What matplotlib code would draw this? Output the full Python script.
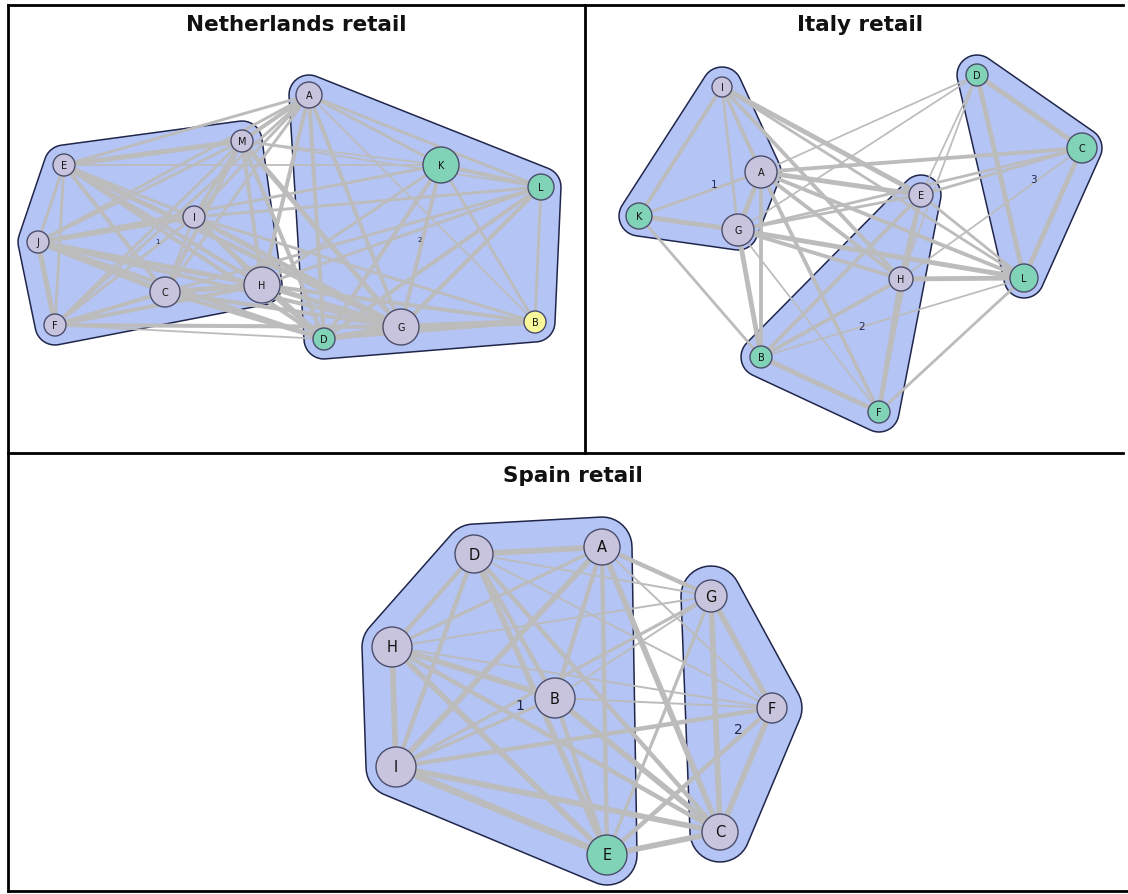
import numpy as np
import matplotlib
matplotlib.use("Agg")
import matplotlib.pyplot as plt
from matplotlib.patches import Circle, Polygon

# ---- Netherlands retail ----
nl_nodes = ["A", "M", "E", "K", "L", "I", "J", "H", "C", "F", "D", "G", "B"]
nl_x = [309, 242, 64, 441, 541, 194, 38, 262, 165, 55, 324, 401, 535]
nl_y = [96, 142, 166, 166, 188, 218, 243, 286, 293, 326, 340, 328, 323]
nl_size = [13, 11, 11, 18, 13, 11, 11, 18, 15, 11, 11, 18, 11]
nl_kind = ["p", "p", "p", "g", "g", "p", "p", "p", "p", "p", "g", "p", "y"]
nl_groups = [["E", "M", "I", "J", "H", "C", "F"], ["A", "K", "L", "D", "G", "B"]]
nl_group_labels = ["1", "2"]
nl_group_label_xy = [(157, 242), (420, 240)]
nl_edges = [
    ("E", "M", 4), ("E", "I", 2), ("E", "J", 2), ("E", "F", 2), ("E", "C", 3), ("E", "H", 3),
    ("E", "G", 4), ("E", "D", 3), ("E", "K", 1), ("E", "A", 2),
    ("M", "A", 3), ("M", "I", 3), ("M", "C", 3), ("M", "J", 2), ("M", "F", 2), ("M", "H", 3),
    ("M", "G", 4), ("M", "D", 3), ("M", "K", 1), ("M", "L", 1),
    ("I", "J", 4), ("I", "C", 2), ("I", "F", 2), ("I", "H", 2), ("I", "G", 4), ("I", "D", 3),
    ("I", "A", 2), ("I", "L", 2), ("I", "B", 2),
    ("J", "F", 4), ("J", "C", 4), ("J", "H", 4), ("J", "G", 3), ("J", "D", 3), ("J", "A", 2), ("J", "K", 2),
    ("C", "F", 3), ("C", "H", 4), ("C", "G", 3), ("C", "D", 3), ("C", "A", 2), ("C", "L", 2),
    ("F", "H", 3), ("F", "G", 3), ("F", "D", 1), ("F", "A", 2),
    ("H", "A", 3), ("H", "G", 4), ("H", "D", 4), ("H", "B", 3), ("H", "K", 2), ("H", "L", 2),
    ("A", "K", 2), ("A", "L", 2), ("A", "G", 3), ("A", "D", 3), ("A", "B", 1),
    ("K", "L", 3), ("K", "G", 3), ("K", "D", 3), ("K", "B", 2),
    ("L", "G", 3), ("L", "D", 3), ("L", "B", 2),
    ("G", "D", 5), ("G", "B", 5), ("D", "B", 2),
]

# ---- Italy retail ----
it_nodes = ["I", "D", "C", "A", "E", "K", "G", "H", "L", "B", "F"]
it_x = [722, 977, 1082, 761, 921, 639, 738, 901, 1024, 761, 879]
it_y = [88, 76, 149, 173, 196, 217, 231, 280, 279, 358, 413]
it_size = [10, 11, 15, 16, 12, 13, 16, 12, 14, 11, 11]
it_kind = ["p", "g", "g", "p", "p", "g", "p", "p", "g", "g", "g"]
it_groups = [["I", "A", "K", "G"], ["E", "H", "B", "F"], ["D", "C", "L"]]
it_group_labels = ["1", "2", "3"]
it_group_label_xy = [(714, 185), (862, 327), (1033, 180)]
it_edges = [
    ("I", "K", 3), ("I", "A", 3), ("I", "G", 2), ("I", "E", 4), ("I", "H", 3), ("I", "L", 2),
    ("A", "K", 2), ("A", "G", 4), ("A", "B", 3), ("A", "E", 4), ("A", "H", 3), ("A", "L", 3),
    ("A", "C", 3), ("A", "D", 1), ("A", "F", 3),
    ("K", "G", 4), ("K", "B", 2),
    ("G", "B", 4), ("G", "E", 2), ("G", "C", 2), ("G", "H", 3), ("G", "L", 4), ("G", "D", 1), ("G", "F", 1),
    ("E", "H", 4), ("E", "B", 3), ("E", "D", 1), ("E", "C", 2), ("E", "L", 2), ("E", "F", 2),
    ("H", "B", 3), ("H", "F", 4), ("H", "L", 4), ("H", "D", 1), ("H", "C", 1),
    ("B", "F", 4), ("B", "L", 1), ("F", "L", 2),
    ("D", "C", 4), ("D", "L", 4), ("C", "L", 4),
]

# ---- Spain retail ----
es_nodes = ["D", "A", "G", "H", "B", "F", "I", "C", "E"]
es_x = [474, 602, 711, 392, 555, 772, 396, 720, 607]
es_y = [555, 548, 597, 648, 699, 709, 768, 833, 856]
es_size = [19, 18, 16, 20, 20, 15, 20, 18, 20]
es_kind = ["p", "p", "p", "p", "p", "p", "p", "p", "g"]
es_groups = [["D", "A", "H", "B", "I", "E"], ["G", "F", "C"]]
es_group_labels = ["1", "2"]
es_group_label_xy = [(520, 706), (738, 730)]
es_edges = [
    ("D", "A", 4), ("D", "H", 3), ("D", "I", 3), ("D", "B", 3), ("D", "E", 4), ("D", "C", 3),
    ("D", "G", 1), ("D", "F", 1),
    ("A", "H", 2), ("A", "I", 4), ("A", "B", 3), ("A", "E", 3), ("A", "C", 4), ("A", "G", 3), ("A", "F", 1),
    ("H", "I", 4), ("H", "B", 4), ("H", "E", 4), ("H", "C", 3), ("H", "G", 1), ("H", "F", 1),
    ("B", "I", 2), ("B", "E", 3), ("B", "C", 4), ("B", "G", 1), ("B", "F", 1),
    ("I", "E", 5), ("I", "C", 4), ("I", "F", 3), ("I", "G", 2),
    ("E", "C", 4), ("E", "G", 2), ("E", "F", 3),
    ("G", "F", 4), ("G", "C", 4), ("F", "C", 4),
]

titles = ["Netherlands retail", "Italy retail", "Spain retail"]
title_xy = [(296, 25), (860, 25), (573, 476)]

COLORS = {"p": "#c9c4dd", "g": "#80d3b6", "y": "#f9f99c"}
HULL_FILL = "#b4c4f5"
HULL_EDGE = "#20264a"
EDGE_COL = "#bcbcbc"


def convex_hull(pts):
    pts = sorted(set(map(tuple, pts)))
    def cross(o, a, b):
        return (a[0] - o[0]) * (b[1] - o[1]) - (a[1] - o[1]) * (b[0] - o[0])
    lower, upper = [], []
    for p in pts:
        while len(lower) >= 2 and cross(lower[-2], lower[-1], p) <= 0:
            lower.pop()
        lower.append(p)
    for p in reversed(pts):
        while len(upper) >= 2 and cross(upper[-2], upper[-1], p) <= 0:
            upper.pop()
        upper.append(p)
    return np.array(lower[:-1] + upper[:-1])


def draw_network(ax, nodes, xs, ys, sizes, kinds, groups, glabels, gxy, edges,
                 pad, font_node, font_group, width_scale):
    pos = {n: (x, y) for n, x, y in zip(nodes, xs, ys)}
    t = np.linspace(0, 2 * np.pi, 40, endpoint=False)
    # cluster hulls
    for grp in groups:
        pts = []
        for n in grp:
            x, y = pos[n]
            pts += list(zip(np.round(x + pad * np.cos(t), 2), np.round(y + pad * np.sin(t), 2)))
        hull = convex_hull(pts)
        ax.add_patch(Polygon(hull, closed=True, facecolor=HULL_FILL, edgecolor=HULL_EDGE,
                             lw=1.1, zorder=1))
    # edges
    for u, v, w in edges:
        (x1, y1), (x2, y2) = pos[u], pos[v]
        ax.plot([x1, x2], [y1, y2], color=EDGE_COL, lw=0.5 + w * width_scale,
                solid_capstyle="butt", zorder=2)
    # group labels
    for lab, (x, y) in zip(glabels, gxy):
        ax.text(x, y, lab, fontsize=font_group, color="#20264a", ha="center", va="center", zorder=3)
    # vertices
    for n, s, k in zip(nodes, sizes, kinds):
        x, y = pos[n]
        ax.add_patch(Circle((x, y), s, facecolor=COLORS[k], edgecolor="#4b4d6b", lw=1.0, zorder=4))
        ax.text(x, y, n, fontsize=font_node, ha="center", va="center", color="#111111", zorder=5)


fig = plt.figure(figsize=(11.28, 8.95), dpi=100)
ax = fig.add_axes([0, 0, 1, 1])
ax.set_xlim(0, 1128)
ax.set_ylim(895, 0)
ax.axis("off")

draw_network(ax, nl_nodes, nl_x, nl_y, nl_size, nl_kind, nl_groups, nl_group_labels,
             nl_group_label_xy, nl_edges, pad=20, font_node=7, font_group=5, width_scale=0.8)
draw_network(ax, it_nodes, it_x, it_y, it_size, it_kind, it_groups, it_group_labels,
             it_group_label_xy, it_edges, pad=20, font_node=7, font_group=7.5, width_scale=0.75)
draw_network(ax, es_nodes, es_x, es_y, es_size, es_kind, es_groups, es_group_labels,
             es_group_label_xy, es_edges, pad=30, font_node=10.5, font_group=10, width_scale=0.9)

for txt, (x, y) in zip(titles, title_xy):
    ax.text(x, y, txt, fontsize=15.5, fontweight="bold", ha="center", va="center", color="#111111")

# table frame
frame_kw = dict(color="black", lw=2, solid_capstyle="projecting", zorder=10)
ax.plot([7.5, 1123], [5.5, 5.5], **frame_kw)
ax.plot([7.5, 7.5], [5.5, 892], **frame_kw)
ax.plot([7.5, 1128], [892, 892], **frame_kw)
ax.plot([7.5, 1123], [454, 454], **frame_kw)
ax.plot([585, 585], [5.5, 454], **frame_kw)

fig.savefig("out.png", dpi=100)
